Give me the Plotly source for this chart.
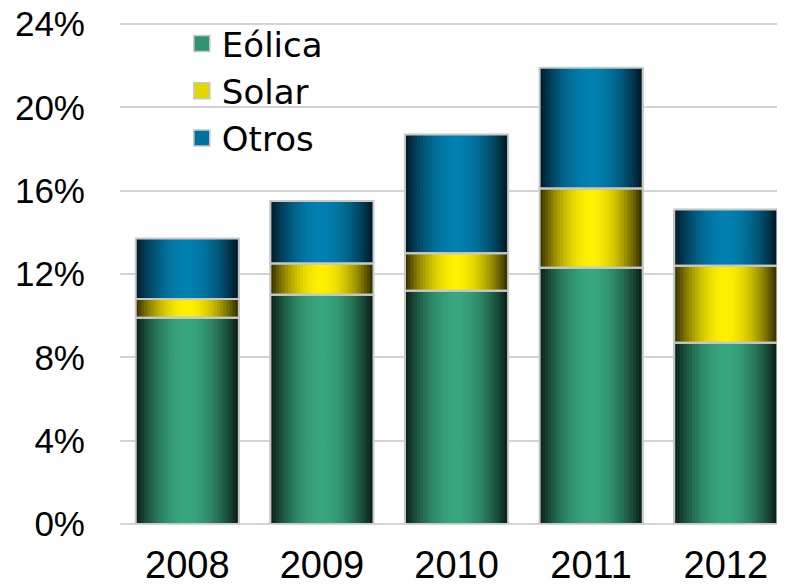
import numpy as np
import plotly.graph_objects as go

years  = ['2008', '2009', '2010', '2011', '2012']
eolica = [9.9, 11.0, 11.2, 12.3, 8.7]
solar  = [0.9, 1.5, 1.8, 3.8, 3.7]
otros  = [2.9, 3.0, 5.7, 5.8, 2.7]
yticks = [0, 4, 8, 12, 16, 20, 24]

# name, values, centre colour, edge colour
SERIES = [
    ('Eólica', eolica, (56, 166, 126), (8, 28, 20)),
    ('Solar',  solar,  (255, 240, 0),  (45, 40, 0)),
    ('Otros',  otros,  (0, 128, 176),  (0, 22, 34)),
]

BAR_W   = 0.766
N_STRIP = 34
EDGE    = '#c8c8c8'


def shade(center, edge, t):
    # t in [-1, 1] across the bar; bright middle, dark sides
    f = 1 - abs(t) ** 1.9
    return 'rgb(%d,%d,%d)' % tuple(round(e + (c - e) * f) for c, e in zip(center, edge))


fig = go.Figure()

base = np.zeros(len(years))
bases = []
for name, vals, c, e in SERIES:
    vals = np.array(vals)
    bases.append(base.copy())
    sw = BAR_W / N_STRIP
    for i in range(N_STRIP):
        t = -1 + (2 * i + 1) / N_STRIP
        col = shade(c, e, t)
        fig.add_trace(go.Bar(
            x=years, y=vals, base=base.copy(),
            width=sw, offset=-BAR_W / 2 + i * sw,
            marker=dict(color=col, line=dict(color=col, width=1)),
            showlegend=False, hoverinfo='skip',
        ))
    base = base + vals

# ── grey outlines on top ──
for (name, vals, c, e), b in zip(SERIES, bases):
    fig.add_trace(go.Bar(
        x=years, y=vals, base=b, width=BAR_W,
        marker=dict(color='rgba(0,0,0,0)', line=dict(color=EDGE, width=2)),
        showlegend=False,
        hovertemplate=f'<b>{name}</b> %{{x}}: %{{y:.1f}}%<extra></extra>',
    ))

# ── legend entries ──
for name, vals, c, e in SERIES:
    fig.add_trace(go.Scatter(
        x=[None], y=[None], mode='markers', name=name,
        marker=dict(symbol='square', size=16, color=shade(c, e, 0.35),
                    line=dict(color=EDGE, width=1.5)),
    ))

# page body adds an 8px margin, so the figure is 8px smaller each way
fig.update_layout(
    width=777, height=580,
    margin=dict(l=112, r=0, t=15, b=64, autoexpand=False),
    paper_bgcolor='white', plot_bgcolor='white',
    barmode='overlay',
    font=dict(family='Liberation Sans Narrow, Arial Narrow, sans-serif', color='black', size=38),
    legend=dict(x=0.093, y=1.016, xanchor='left', yanchor='top',
                font=dict(family='DejaVu Sans, sans-serif', size=34),
                itemsizing='trace', bgcolor='rgba(0,0,0,0)', tracegroupgap=0),
    xaxis=dict(type='category', range=[-0.5, 4.44], showgrid=False,
               showline=False, ticks='', tickfont=dict(size=38),
               ticklabelstandoff=15, automargin=False),
    yaxis=dict(range=[0, 24.05], tickvals=yticks,
               ticktext=[f'{v}%' for v in yticks], showgrid=True,
               gridcolor='#d4d4d4', gridwidth=2, zeroline=True,
               zerolinecolor='#d4d4d4', zerolinewidth=2, showline=False,
               ticks='', tickfont=dict(size=35), ticklabelstandoff=34,
               ticklabeloverflow='allow', automargin=False),
)

fig.write_html('out.html')
